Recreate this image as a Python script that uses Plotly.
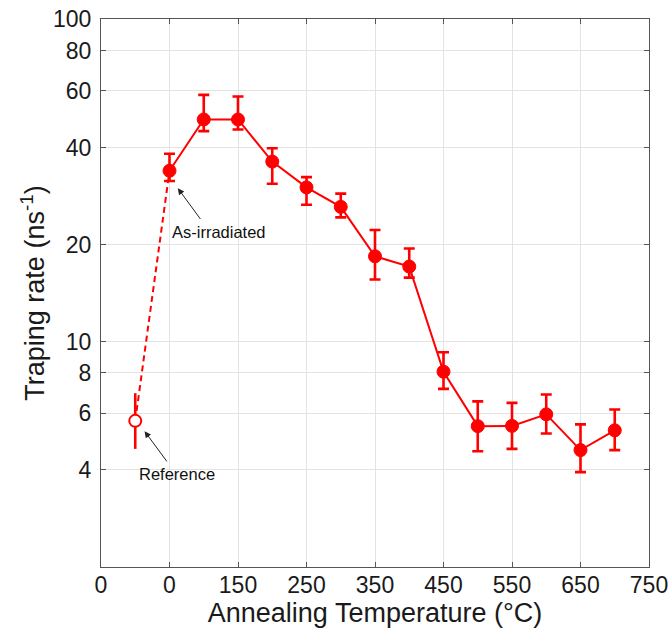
import plotly.graph_objects as go
import math

# ---- data ----
temp_labels = ["As-irradiated", "75", "150", "200", "250", "300", "350", "400",
               "450", "500", "550", "600", "650", "700"]
rates = [33.9, 48.9, 48.9, 36.2, 30.1, 26.2, 18.4, 17.1, 8.07, 5.47, 5.48, 5.95, 4.61, 5.31]
err_plus = [4.4, 9.4, 8.7, 3.6, 2.3, 2.6, 3.8, 2.35, 1.2, 1.06, 0.98, 0.91, 0.93, 0.85]
err_minus = [2.4, 3.9, 3.4, 5.3, 3.5, 1.9, 2.8, 1.3, 0.93, 0.9, 0.83, 0.76, 0.67, 0.7]
positions = list(range(len(rates)))

ref_pos = -1
ref_rate = 5.68
ref_err_plus = 1.24
ref_err_minus = 1.03

tick_positions = [-2, 0, 2, 4, 6, 8, 10, 12, 14]
tick_labels = ["0", "0", "150", "250", "350", "450", "550", "650", "750"]
y_ticks = [4, 6, 8, 10, 20, 40, 60, 80, 100]

RED = "#ff0000"
FONT = "Liberation Sans, Arial, Helvetica, sans-serif"

fig = go.Figure()

# dashed link reference -> as-irradiated
fig.add_trace(go.Scatter(
    x=[ref_pos, positions[0]], y=[ref_rate, rates[0]], mode="lines",
    line=dict(color=RED, width=2, dash="6px,4px"), showlegend=False, hoverinfo="skip"))

# annealing series
fig.add_trace(go.Scatter(
    x=positions, y=rates, mode="lines+markers",
    line=dict(color=RED, width=2),
    marker=dict(color=RED, size=13, line=dict(color=RED, width=1)),
    error_y=dict(type="data", symmetric=False, array=err_plus, arrayminus=err_minus,
                 color=RED, thickness=2.6, width=5.5),
    text=temp_labels, showlegend=False))

# reference point
fig.add_trace(go.Scatter(
    x=[ref_pos], y=[ref_rate], mode="markers",
    marker=dict(color="white", size=12, line=dict(color=RED, width=2)),
    error_y=dict(type="data", symmetric=False, array=[ref_err_plus], arrayminus=[ref_err_minus],
                 color=RED, thickness=2.6, width=0),
    showlegend=False))

# annotations
ann_font = dict(family=FONT, size=16.5, color="#111111")
fig.add_annotation(x=positions[0], y=math.log10(rates[0]), text="", showarrow=True,
                   xshift=8.3, yshift=-17.4, ax=23.7, ay=32.3,
                   arrowhead=2, arrowsize=1.3, arrowwidth=1, arrowcolor="#222222")
fig.add_annotation(x=positions[0], y=math.log10(rates[0]), text="As-irradiated", showarrow=False,
                   xshift=49.5, yshift=-61.4, font=ann_font)
fig.add_annotation(x=ref_pos, y=math.log10(ref_rate), text="", showarrow=True,
                   xshift=9.3, yshift=-10.3, ax=23.4, ay=31.7,
                   arrowhead=2, arrowsize=1.3, arrowwidth=1, arrowcolor="#222222")
fig.add_annotation(x=ref_pos, y=math.log10(ref_rate), text="Reference", showarrow=False,
                   xshift=41.3, yshift=-53.6, font=ann_font)

axis_common = dict(
    showline=True, linecolor="#555555", linewidth=1, mirror="ticks",
    ticks="inside", ticklen=5, tickcolor="#555555", tickwidth=1,
    showgrid=True, gridcolor="#e3e3e3", gridwidth=1, zeroline=False,
    tickfont=dict(family=FONT, size=23, color="#1a1a1a"),
    ticklabeloverflow="allow",
)

fig.update_xaxes(
    range=[-2, 14], tickmode="array", tickvals=tick_positions, ticktext=tick_labels,
    ticklabelstandoff=-3,
    title=dict(text="Annealing Temperature (°C)", font=dict(family=FONT, size=27, color="#1a1a1a"),
               standoff=4),
    **axis_common)
fig.update_yaxes(
    type="log", range=[math.log10(2), 2.001], tickmode="array", tickvals=y_ticks,
    ticktext=[str(v) for v in y_ticks], ticklabelstandoff=4,
    title=dict(text="Traping rate (ns<sup>-1</sup>)", font=dict(family=FONT, size=27, color="#1a1a1a"),
               standoff=0),
    **axis_common)

fig.update_layout(
    width=672, height=630,
    margin=dict(l=100.5, r=23, t=19, b=63, autoexpand=False),
    paper_bgcolor="white", plot_bgcolor="white",
    font=dict(family=FONT),
)

fig.write_html("out.html", config={"displayModeBar": False},
               post_script="document.body.style.margin='0';")
